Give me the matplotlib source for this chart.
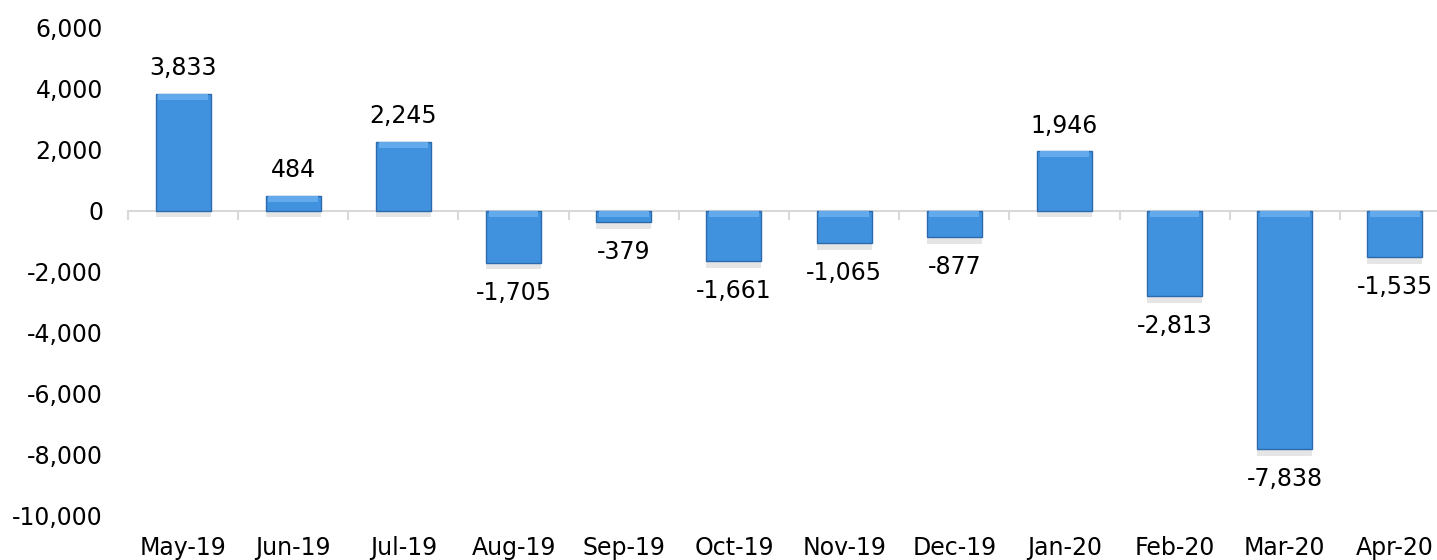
import matplotlib.pyplot as plt
import numpy as np

months = ['May-19', 'Jun-19', 'Jul-19', 'Aug-19', 'Sep-19', 'Oct-19',
          'Nov-19', 'Dec-19', 'Jan-20', 'Feb-20', 'Mar-20', 'Apr-20']
values = [3833, 484, 2245, -1705, -379, -1661, -1065, -877, 1946, -2813, -7838, -1535]

plt.rcParams['font.family'] = ['DejaVu Sans']

fig = plt.figure(figsize=(14.37, 5.6), dpi=100)
# axes right edge runs a little past the picture, as in the original
ax = fig.add_axes([128 / 1437, 45 / 560, 1322 / 1437, 487 / 560])

x = np.arange(len(values))
w = 0.5

# soft grey shadow under the bars
shadow_top = [0 if v > 0 else v for v in values]
ax.bar(x, [-220] * len(x), bottom=shadow_top, width=w, color='#d4d4d4',
       alpha=0.6, linewidth=0, zorder=1)

ax.bar(x, values, width=w, color='#4192de', edgecolor='#2c6aac', linewidth=1.0, zorder=3)
# lighter bevel along the top edge of every bar
bevel = 200
tops = [max(v, 0) for v in values]
heights = [min(bevel, abs(v)) for v in values]
ax.bar(x, heights, bottom=[t - h for t, h in zip(tops, heights)], width=w * 0.9,
       color='#62aaeb', linewidth=0, zorder=4)

for xi, v in zip(x, values):
    if v >= 0:
        ax.annotate(f'{v:,}', (xi, v), xytext=(0, 10), textcoords='offset points',
                    ha='center', va='bottom', fontsize=17, zorder=5)
    else:
        ax.annotate(f'{v:,}', (xi, v), xytext=(0, -13), textcoords='offset points',
                    ha='center', va='top', fontsize=17, zorder=5)

ax.set_ylim(-10000, 6000)
ax.set_xlim(-0.5, len(values) - 0.5)
ax.set_yticks(range(-10000, 6001, 2000))
ax.set_yticklabels([f'{t:,}' for t in range(-10000, 6001, 2000)], fontsize=17)

for s in ax.spines.values():
    s.set_visible(False)
ax.axhline(0, color='#d9d9d9', linewidth=1.5, zorder=2)
for b in np.arange(-0.5, len(values), 1.0):
    ax.plot([b, b], [0, -280], color='#d9d9d9', linewidth=1.5, zorder=2, clip_on=False)

ax.tick_params(axis='y', length=0, pad=18)
ax.set_xticks(x)
ax.set_xticklabels(months, fontsize=17)
ax.tick_params(axis='x', length=0, pad=15)

fig.savefig('out.png', dpi=100)
